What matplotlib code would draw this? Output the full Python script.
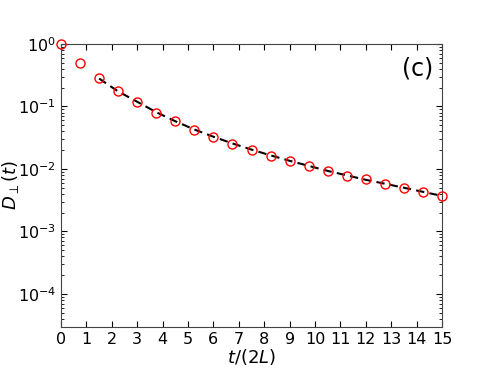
import numpy as np
import matplotlib.pyplot as plt

# data
t = [0.0, 0.75, 1.5, 2.25, 3.0, 3.75, 4.5, 5.25, 6.0, 6.75, 7.5,
     8.25, 9.0, 9.75, 10.5, 11.25, 12.0, 12.75, 13.5, 14.25, 15.0]
D_sim = [1.0, 0.49, 0.283, 0.175, 0.12, 0.080, 0.058, 0.0426, 0.0328, 0.0253, 0.0202,
         0.0164, 0.0135, 0.0112, 0.0093, 0.0078, 0.0068, 0.0057, 0.0049, 0.0042, 0.0037]

t_fit = [1.5, 2.25, 3.0, 3.75, 4.5, 5.25, 6.0, 6.75, 7.5, 8.25, 9.0,
         9.75, 10.5, 11.25, 12.0, 12.75, 13.5, 14.25, 15.0]
D_fit = [0.28, 0.174, 0.119, 0.081, 0.058, 0.0428, 0.0328, 0.0256, 0.0204, 0.0165, 0.0135,
         0.0112, 0.0093, 0.0079, 0.0067, 0.0058, 0.0050, 0.0043, 0.0037]

fig = plt.figure(figsize=(4.91, 3.68), dpi=100)
ax = fig.add_axes([61 / 491, 1 - 327 / 368, 381 / 491, 283 / 368])

ax.plot(t_fit, D_fit, '--', color='k', lw=1.5, dashes=(4, 2.5), zorder=2)
ax.plot(t, D_sim, 'o', mfc='none', mec='r', ms=6.5, mew=1.0, zorder=3, clip_on=False)

ax.set_yscale('log')
ax.set_xlim(0, 15)
ax.set_ylim(10 ** -4.53, 1)
ax.set_xticks(np.arange(0, 16, 1))
ax.tick_params(which='both', direction='in', top=True, right=True, labelsize=11.5)
ax.tick_params(which='major', length=4)
ax.tick_params(which='minor', length=2)
ax.tick_params(axis='x', pad=3.5)
for s in ax.spines.values():
    s.set_color('#444444')

ax.set_xlabel('$t/(2L)$', fontsize=13)
ax.xaxis.set_label_coords(0.5, -0.072)
ax.set_ylabel(r'$D_\perp(t)$', fontsize=13)
ax.yaxis.set_label_coords(-0.106, 0.5)
ax.text(0.935, 0.915, '(c)', transform=ax.transAxes, fontsize=17, ha='center', va='center')

fig.savefig('out.png', dpi=100)
